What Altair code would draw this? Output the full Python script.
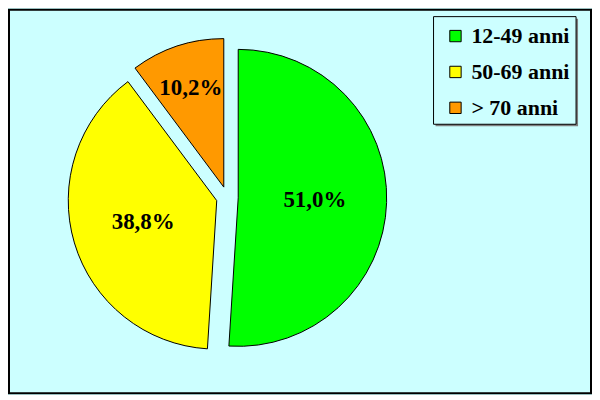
import altair as alt
import pandas as pd

categories = ["12-49 anni", "50-69 anni", "> 70 anni"]
values = [51.0, 38.8, 10.2]
labels = ["51,0%", "38,8%", "10,2%"]
colors = ["#00FF00", "#FFFF00", "#FF9900"]
order = [0, 1, 2]

df = pd.DataFrame({"cat": categories, "value": values, "label": labels, "order": order})

PAD = 1
OFF = 8 + PAD
CX, CY = 228 - OFF, 197.5 - OFF
R = 149
D = 11

base = alt.Chart(df).transform_window(
    cum="sum(value)", sort=[alt.SortField("order")], frame=[None, 0]
).transform_joinaggregate(total="sum(value)").transform_calculate(
    t1="2*PI*(datum.cum - datum.value)/datum.total",
    t2="2*PI*datum.cum/datum.total",
).transform_calculate(
    mid="(datum.t1 + datum.t2)/2",
).transform_calculate(
    ex=f"{CX} + {D}*sin(datum.mid)",
    ey=f"{CY} - {D}*cos(datum.mid)",
    lr="datum.value/datum.total < 0.15 ? 116 : 88",
).transform_calculate(
    lx=f"{CX} + datum.lr*sin(datum.mid)",
    ly=f"{CY} - datum.lr*cos(datum.mid)",
)

# legend frame + shadow (decoration)
box = alt.Chart(pd.DataFrame({"k": [0]}))
shadow = box.mark_rect(fill="#7f7f7f").encode(
    x=alt.value(435 - OFF + 2), x2=alt.value(578 - OFF + 2),
    y=alt.value(16 - OFF + 2), y2=alt.value(124 - OFF + 2),
)
frame = box.mark_rect(fill="#CCFFFF", stroke="black", strokeWidth=1).encode(
    x=alt.value(435 - OFF), x2=alt.value(578 - OFF),
    y=alt.value(16 - OFF), y2=alt.value(124 - OFF),
)

arcs = base.mark_arc(stroke="black", strokeWidth=1, radius=R).encode(
    x=alt.X("ex:Q", scale=None),
    y=alt.Y("ey:Q", scale=None),
    theta=alt.Theta("t1:Q", scale=None),
    theta2="t2:Q",
    color=alt.Color(
        "cat:N",
        sort=categories,
        scale=alt.Scale(domain=categories, range=colors),
        legend=alt.Legend(
            title=None,
            orient="none",
            legendX=446 - OFF,
            legendY=24.5 - OFF,
            padding=0,
            symbolType="square",
            symbolSize=130,
            symbolStrokeColor="black",
            symbolStrokeWidth=1,
            symbolOpacity=1,
            labelFont="Liberation Serif",
            labelFontSize=22,
            labelFontWeight="bold",
            labelColor="black",
            rowPadding=14,
            labelOffset=5,
            labelLimit=0,
        ),
    ),
)

texts = base.mark_text(
    font="Liberation Serif", fontSize=23, fontWeight="bold",
    align="center", baseline="middle", color="black",
).encode(
    x=alt.X("lx:Q", scale=None),
    y=alt.Y("ly:Q", scale=None),
    text="label:N",
)

chart = (shadow + frame + arcs + texts).properties(
    width=586,
    height=387,
    padding=PAD,
    autosize=alt.AutoSizeParams(type="fit", contains="padding"),
    background="#CCFFFF",
).configure_view(stroke="black", strokeWidth=2)

chart.save("out.html", embed_options={"renderer": "svg", "actions": False})
